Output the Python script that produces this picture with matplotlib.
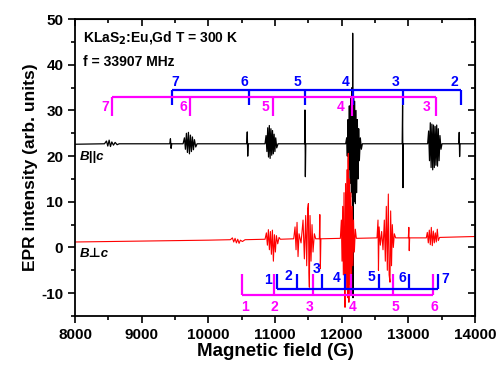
import matplotlib
matplotlib.use("Agg")
import matplotlib.pyplot as plt
from matplotlib.ticker import MultipleLocator

plt.rcParams['font.family'] = ['Liberation Sans', 'DejaVu Sans']
plt.rcParams['font.weight'] = 'bold'
plt.rcParams['axes.unicode_minus'] = False

# B||c spectrum, vertices (field G, intensity)
black_field = [8000, 8440, 8470, 8490, 8510, 8530, 8550, 8575, 8600, 8630, 8660,
               9420, 9430, 9440, 9450,
               9620, 9640, 9655, 9670, 9685, 9700, 9715, 9730, 9745, 9760, 9775, 9790, 9810, 9830,
               10575, 10583, 10590, 10598,
               10850, 10865, 10878, 10890, 10902, 10914, 10926, 10938, 10950, 10962, 10974, 10986,
               10998, 11010, 11025, 11045,
               11443, 11449, 11455, 11461,
               12060, 12075, 12085, 12095, 12105, 12115, 12125, 12135, 12145, 12155, 12162, 12165,
               12170, 12178, 12186, 12195, 12205, 12215, 12225, 12235, 12245, 12255, 12265, 12280,
               12295, 12310,
               12908, 12914, 12920, 12926,
               13290, 13305, 13318, 13330, 13342, 13354, 13366, 13378, 13390, 13402, 13414, 13426,
               13438, 13450, 13462, 13475, 13490, 13505,
               13758, 13764, 13770, 13776, 14000]
black_int = [22.6, 22.7, 23.3, 22.2, 23.5, 22.1, 23.1, 22.4, 23.0, 22.5, 22.7,
             22.7, 23.8, 21.7, 22.7,
             22.7, 24.0, 21.5, 25.0, 20.8, 25.2, 20.5, 24.6, 21.0, 24.2, 21.4, 23.6, 22.0, 22.7,
             22.7, 25.3, 20.0, 22.7,
             22.7, 24.5, 21.0, 26.2, 19.8, 26.7, 19.5, 26.0, 20.2, 25.6, 20.5, 24.8,
             21.0, 24.0, 21.8, 22.7,
             22.7, 30.1, 15.5, 22.7,
             22.7, 24.0, 20.0, 28.0, 17.0, 31.0, 14.0, 33.0, 12.0, 35.0, 11.0, 46.9,
             -11.0, 33.0, 10.0, 32.0, 9.6, 30.0, 12.0, 28.0, 15.0, 26.0, 19.0, 24.0,
             21.5, 22.7,
             22.7, 31.1, 13.1, 22.7,
             22.7, 25.5, 19.0, 27.3, 17.5, 27.0, 17.0, 26.8, 17.5, 26.5, 18.0, 26.8,
             17.8, 26.0, 19.0, 24.5, 21.5, 22.7,
             22.7, 25.2, 19.9, 22.7, 22.7]

# B perp c spectrum
red_field = [8000, 9000, 10000, 10330, 10360, 10380, 10400, 10420, 10440, 10460, 10480, 10510, 10550,
             10850, 10870, 10885, 10900, 10915, 10930, 10945, 10960, 10975, 10990, 11005, 11020,
             11040, 11060, 11080,
             11280, 11300, 11315, 11330, 11345, 11360, 11390, 11420, 11440, 11460, 11475, 11490,
             11500, 11508, 11515, 11525, 11540, 11555, 11570, 11590, 11610,
             11665, 11672, 11680, 11688,
             11980, 11995, 12005, 12015, 12025, 12035, 12045, 12050, 12058, 12068, 12078, 12088,
             12095, 12100, 12108, 12118, 12128, 12138, 12148, 12158, 12168, 12178, 12190, 12205, 12220,
             12530, 12545, 12552, 12562, 12580, 12600, 12620, 12640, 12655, 12670, 12685, 12700,
             12712, 12725, 12735, 12748, 12760, 12775, 12790, 12810,
             13000, 13008, 13014, 13020,
             13270, 13285, 13300, 13315, 13330, 13345, 13360, 13375, 13390, 13405, 13420, 13435,
             13450, 13470, 14000]
red_int = [1.2, 1.4, 1.6, 1.7, 2.1, 1.2, 2.0, 1.0, 1.8, 0.9, 1.6, 1.3, 1.7,
           1.8, 3.2, 0.5, 3.9, -0.5, 3.5, -1.5, 3.8, -3.0, 2.8, -1.0, 2.6,
           0.8, 2.2, 1.8,
           1.9, 4.5, -0.5, 5.5, -2.0, 3.0, 1.0, 6.0, -2.5, 7.0, -4.0, 8.5,
           9.6, -5.5, -8.7, 7.0, -3.0, 5.0, -1.0, 3.0, 1.9,
           1.9, 7.2, -4.6, 1.9,
           2.0, 6.0, -3.0, 9.0, -6.0, 12.0, -10.0, -13.1, 14.0, -9.0, 17.0, -11.0,
           19.0, 20.6, -12.0, 15.0, -8.0, 12.0, -6.0, 9.0, -4.0, 6.0, -1.0, 4.0, 2.0,
           2.1, 6.0, -5.0, 4.5, 0.5, 3.5, -0.5, 6.0, -3.0, 9.0, -5.0, 11.7,
           -6.0, -7.6, 8.0, -4.0, 5.0, 0.0, 3.0, 2.1,
           2.1, 4.4, -0.7, 2.1,
           2.1, 3.3, 1.0, 3.8, 0.6, 4.4, 0.4, 3.6, 1.0, 3.2, 1.2, 4.0,
           1.5, 2.2, 2.4]

# transition brackets
top_blue_pos = [9450, 10610, 11455, 12175, 12925, 13790]
top_blue_lab = ['7', '6', '5', '4', '3', '2']
top_blue_lab_x = [9500, 10535, 11340, 12065, 12815, 13690]
top_mag_pos = [8550, 9725, 10965, 12160, 13415]
top_mag_lab = ['7', '6', '5', '4', '3']
top_mag_lab_x = [8450, 9620, 10860, 11990, 13275]
bot_mag_pos = [10500, 10980, 11565, 12140, 12775, 13365]
bot_mag_lab = ['1', '2', '3', '4', '5', '6']
bot_mag_lab_x = [10550, 10985, 11525, 12165, 12800, 13385]
bot_blue_pos = [11025, 11325, 11700, 12050, 12565, 13015, 13450]
bot_blue_lab = ['1', '2', '3', '4', '5', '6', '7']
bot_blue_lab_x = [10895, 11205, 11625, 11930, 12450, 12915, 13550]
bot_blue_lab_y = [-7.2, -6.3, -4.7, -6.6, -6.5, -6.6, -6.9]

blue = '#0000ff'
mag = '#ff00ff'

fig = plt.figure(figsize=(5.01, 3.67), dpi=100)
ax = fig.add_axes([0.15, 0.139, 0.798, 0.809])

ax.plot(black_field, black_int, color='black', lw=0.9)
ax.plot(red_field, red_int, color='red', lw=0.8)

# top brackets
ax.hlines(34.4, top_blue_pos[0], top_blue_pos[-1], color=blue, lw=1.6)
ax.vlines(top_blue_pos, 31.1, 34.4, color=blue, lw=1.6)
for x, t in zip(top_blue_lab_x, top_blue_lab):
    ax.text(x, 36.3, t, color=blue, fontsize=10, fontweight='bold', ha='center', va='center')
ax.hlines(33.0, top_mag_pos[0], top_mag_pos[-1], color=mag, lw=1.6)
ax.vlines(top_mag_pos, 28.7, 33.0, color=mag, lw=1.6)
for x, t in zip(top_mag_lab_x, top_mag_lab):
    ax.text(x, 30.8, t, color=mag, fontsize=10, fontweight='bold', ha='center', va='center')

# bottom brackets
ax.hlines(-10.3, bot_mag_pos[0], bot_mag_pos[-1], color=mag, lw=1.6)
ax.vlines(bot_mag_pos, -10.3, -5.7, color=mag, lw=1.6)
for x, t in zip(bot_mag_lab_x, bot_mag_lab):
    ax.text(x, -13.1, t, color=mag, fontsize=10, fontweight='bold', ha='center', va='center')
ax.hlines(-9.2, bot_blue_pos[0], bot_blue_pos[-1], color=blue, lw=1.6)
ax.vlines(bot_blue_pos, -9.2, -5.7, color=blue, lw=1.6)
for x, y, t in zip(bot_blue_lab_x, bot_blue_lab_y, bot_blue_lab):
    ax.text(x, y, t, color=blue, fontsize=10, fontweight='bold', ha='center', va='center')

ax.text(8120, 46, r'KLaS$_\mathbf{2}$:Eu,Gd T = 300 K', fontsize=10, fontweight='bold', va='center')
ax.text(8120, 40.5, 'f = 33907 MHz', fontsize=10, fontweight='bold', va='center')
ax.text(8075, 19.9, 'B||c', fontsize=9.5, fontweight='bold', style='italic', va='center')
ax.text(8075, -1.5, 'B\u22a5c', fontsize=9.5, fontweight='bold', style='italic', va='center',
        family=['Liberation Sans', 'DejaVu Sans'])

ax.set_xlim(8000, 14000)
ax.set_ylim(-15, 50)
ax.xaxis.set_major_locator(MultipleLocator(1000))
ax.xaxis.set_minor_locator(MultipleLocator(500))
ax.yaxis.set_major_locator(MultipleLocator(10))
ax.yaxis.set_minor_locator(MultipleLocator(5))
ax.tick_params(which='both', direction='out', top=False, right=False, labelsize=11, width=1.2)
ax.tick_params(which='major', length=5)
ax.tick_params(which='minor', length=3)
for lbl in ax.get_xticklabels() + ax.get_yticklabels():
    lbl.set_fontweight('bold')
for s in ax.spines.values():
    s.set_linewidth(1.3)

# inward ticks on top and right
ax2 = ax.secondary_xaxis('top')
ax2.xaxis.set_major_locator(MultipleLocator(1000))
ax2.xaxis.set_minor_locator(MultipleLocator(500))
ax2.tick_params(which='both', direction='in', labeltop=False, width=1.2)
ax2.tick_params(which='major', length=5)
ax2.tick_params(which='minor', length=3)
ax3 = ax.secondary_yaxis('right')
ax3.yaxis.set_major_locator(MultipleLocator(10))
ax3.yaxis.set_minor_locator(MultipleLocator(5))
ax3.tick_params(which='both', direction='in', labelright=False, width=1.2)
ax3.tick_params(which='major', length=5)
ax3.tick_params(which='minor', length=3)

ax.set_xlabel('Magnetic field (G)', fontsize=13.5, fontweight='bold', labelpad=1)
ax.set_ylabel('EPR intensity (arb. units)', fontsize=12.5, fontweight='bold', labelpad=2)

fig.savefig('out.png', dpi=100)
